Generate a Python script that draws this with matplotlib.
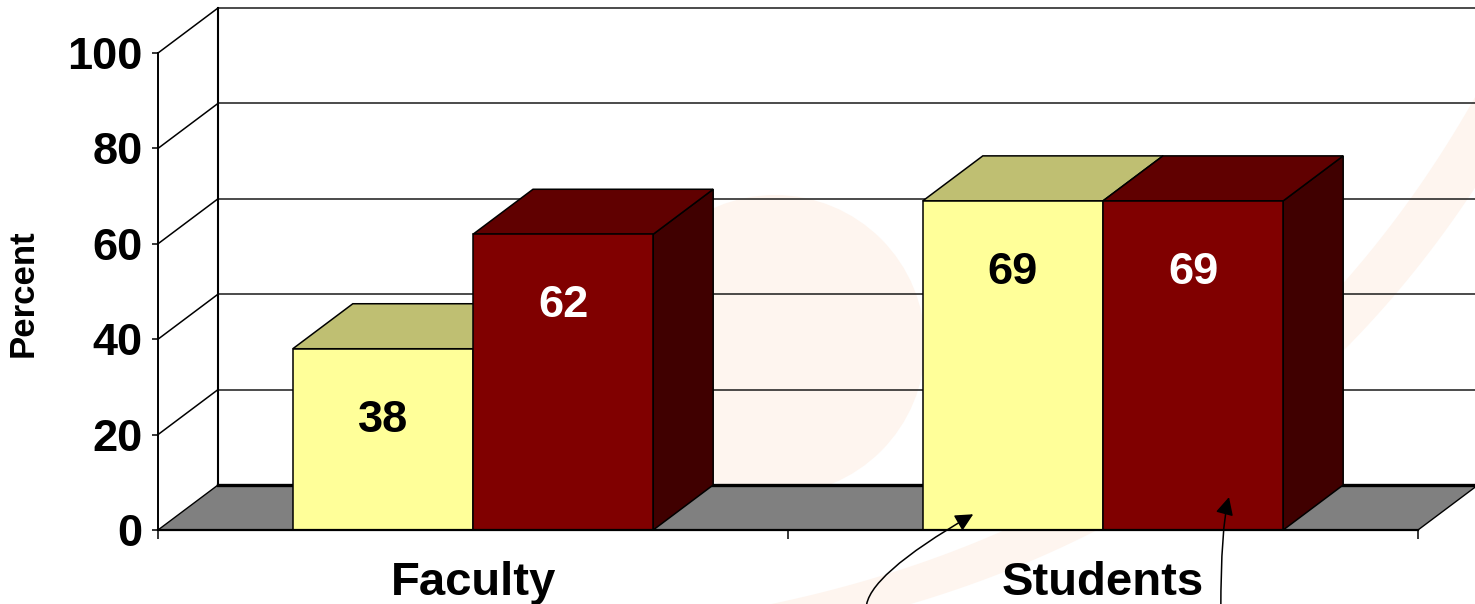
import numpy as np
import matplotlib
matplotlib.use('Agg')
import matplotlib.pyplot as plt
from matplotlib.patches import Polygon, Circle

# ---------------- data ----------------
categories = ['Faculty', 'Students']
series_yellow = [38, 69]
series_red = [62, 69]
y_ticks = [0, 20, 40, 60, 80, 100]
y_label = 'Percent'

# ---------------- style ----------------
plt.rcParams['font.family'] = ['Liberation Sans', 'DejaVu Sans']
plt.rcParams['font.weight'] = 'bold'

W, H = 1475, 604
fig = plt.figure(figsize=(W / 100, H / 100), dpi=100)
fig.patch.set_facecolor('white')

# faint template watermark in the background
bg = fig.add_axes([0, 0, 1, 1], zorder=-1)
bg.set_xlim(0, W)
bg.set_ylim(H, 0)
bg.axis('off')
peach = '#FEF5EF'
bg.add_patch(Circle((775, 345), 150, color=peach, lw=0))
t = np.linspace(0, 1, 80)[:, None]
def bez(p0, p1, p2):
    p0, p1, p2 = map(np.array, (p0, p1, p2))
    return (1 - t) ** 2 * p0 + 2 * t * (1 - t) * p1 + t ** 2 * p2
outer = bez((730, 612), (1250, 520), (1490, 70))
inner = outer + np.array([40, 25])
bg.add_patch(Polygon(np.vstack([outer, inner[::-1]]), closed=True, color=peach, lw=0))

# main axes: front plane of the 3D box
L, B, AW, AH = 158, 604 - 530, 1260, 477
ax = fig.add_axes([L / W, B / H, AW / W, AH / H], zorder=1)
ax.patch.set_visible(False)
ax.set_xlim(-0.5, 1.5)
ax.set_ylim(0, 100)

# depth offset (pixels) converted into data units
DEPTH_PX = np.array([60, 45])
p0 = ax.transData.transform((0, 0))
dx, dy = ax.transData.inverted().transform(p0 + DEPTH_PX)

x0, x1 = -0.5, 1.5
grid_c = '#1a1a1a'
# back wall grid + left wall diagonals
for v in y_ticks[1:]:
    ax.plot([x0 + dx, x1 + dx + 0.05], [v + dy, v + dy], color=grid_c, lw=1.1,
            clip_on=False, zorder=1, solid_capstyle='butt')
    ax.plot([x0, x0 + dx], [v, v + dy], color='black', lw=1.1, clip_on=False, zorder=1)
ax.plot([x0 + dx, x0 + dx], [dy, 100 + dy], color='black', lw=1.5, clip_on=False, zorder=1)

# floor
floor = Polygon([(x0, 0), (x1, 0), (x1 + dx, dy), (x0 + dx, dy)], closed=True,
                fc='#808080', ec='black', lw=1.0, clip_on=False, zorder=2)
ax.add_patch(floor)
ax.plot([x0 + dx, x1 + dx + 0.05], [dy, dy], color='black', lw=2.4, clip_on=False, zorder=2.1)

# bars
BAR_W = 0.286
series = [
    (series_yellow, ('#FFFF99', '#BFBF72', '#80804C'), 'black'),
    (series_red, ('#800000', '#600000', '#400000'), 'white'),
]
z = 3
for i in range(len(categories)):
    for j, (vals, (c_front, c_top, c_side), tcol) in enumerate(series):
        v = vals[i]
        left = i - BAR_W + j * BAR_W
        right = left + BAR_W
        side = [(right, 0), (right + dx, dy), (right + dx, v + dy), (right, v)]
        top = [(left, v), (right, v), (right + dx, v + dy), (left + dx, v + dy)]
        front = [(left, 0), (right, 0), (right, v), (left, v)]
        for pts, c in ((side, c_side), (top, c_top), (front, c_front)):
            ax.add_patch(Polygon(pts, closed=True, fc=c, ec='black', lw=1.1,
                                 clip_on=False, zorder=z))
            z += 0.01
        ax.text((left + right) / 2, v - 15, str(v), ha='center', va='center',
                fontsize=32.5, fontweight='bold', color=tcol, zorder=20)

# spines / ticks
for s in ('top', 'right'):
    ax.spines[s].set_visible(False)
ax.spines['left'].set_linewidth(1.4)
ax.spines['bottom'].set_linewidth(1.6)
ax.spines['left'].set_zorder(30)
ax.spines['bottom'].set_zorder(30)

ax.set_yticks(y_ticks)
ax.set_yticklabels([str(v) for v in y_ticks], fontsize=32.5, fontweight='bold')
ax.tick_params(axis='y', length=4.5, width=1.1, pad=6.5)

ax.set_xticks([0, 1])
ax.set_xticklabels(categories, fontsize=34, fontweight='bold')
ax.tick_params(axis='x', which='major', length=0, pad=22)
ax.set_xticks([-0.5, 0.5, 1.5], minor=True)
ax.tick_params(axis='x', which='minor', length=6.5, width=1.1, direction='out')

fig.text(23 / W, 1 - 293 / H, y_label, rotation=90, ha='center', va='center',
         fontsize=25, fontweight='bold')

# callout arrows from below
arrow_kw = dict(arrowstyle='-|>,head_length=0.6,head_width=0.3', color='black',
                lw=1.1, mutation_scale=18, shrinkA=0, shrinkB=0)
ax.annotate('', xy=(0.794, 3.3), xytext=(0.624, -16.5), annotation_clip=False,
            arrowprops=dict(connectionstyle='angle3,angleA=90,angleB=30', **arrow_kw),
            zorder=40)
ax.annotate('', xy=(1.200, 6.9), xytext=(1.187, -17.0), annotation_clip=False,
            arrowprops=dict(connectionstyle='angle3,angleA=90,angleB=75', **arrow_kw),
            zorder=40)

fig.savefig('out.png', dpi=100, facecolor='white')
